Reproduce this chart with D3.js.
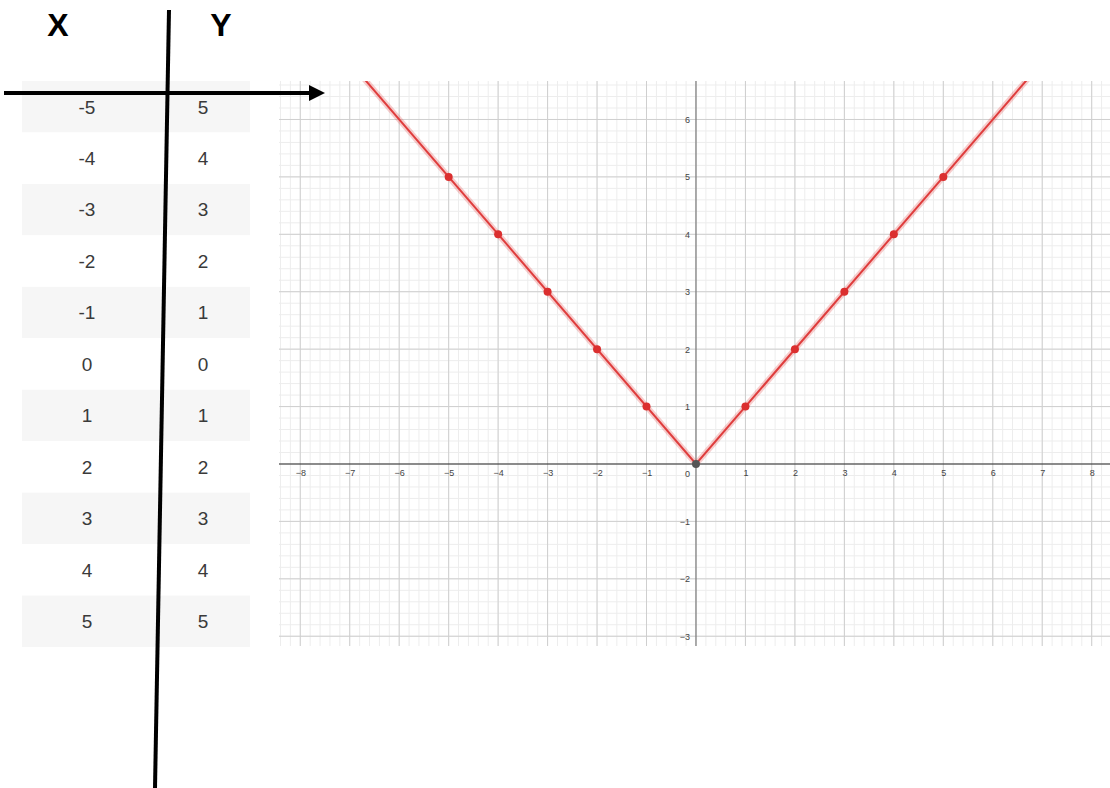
<!DOCTYPE html>
<html>
<head>
<meta charset="utf-8">
<script src="https://cdn.jsdelivr.net/npm/d3@7"></script>
<style>
  body { margin: 0; background: #fff; }
  svg { display: block; }
</style>
</head>
<body>
<div id="chart"></div>
<script>
// table values
const xValues = [-5, -4, -3, -2, -1, 0, 1, 2, 3, 4, 5];
const yValues = [5, 4, 3, 2, 1, 0, 1, 2, 3, 4, 5];
// the graphed line y = |x|, ends run past the plot and get clipped
const curveX = [-7, 0, 7];
const curveY = [7, 0, 7];
// axis tick labels
const xTicks = [-8, -7, -6, -5, -4, -3, -2, -1, 1, 2, 3, 4, 5, 6, 7, 8];
const yTicks = [-3, -2, -1, 1, 2, 3, 4, 5, 6];

const W = 1110, H = 788;
const plot = { left: 279, right: 1110, top: 81, bottom: 646 };

const svg = d3.select("#chart").append("svg")
  .attr("width", W)
  .attr("height", H);

// ---- table ----
const rows = d3.scaleBand()
  .domain(d3.range(xValues.length))
  .range([81, 647]);

const table = svg.append("g");
table.selectAll(".row")
  .data(xValues)
  .enter()
  .append("rect")
  .attr("x", 22)
  .attr("y", (d, i) => rows(i))
  .attr("width", 228)
  .attr("height", rows.bandwidth())
  .attr("fill", (d, i) => i % 2 === 0 ? "#f6f6f6" : "#fff");

table.selectAll(".xcell")
  .data(xValues)
  .enter()
  .append("text")
  .attr("x", 87)
  .attr("y", (d, i) => rows(i) + rows.bandwidth() / 2)
  .attr("dy", "0.36em")
  .attr("text-anchor", "middle")
  .style("font-family", "Arial, 'Liberation Sans', sans-serif")
  .style("font-size", "19px")
  .style("fill", "#3a3a3a")
  .text(d => d);

table.selectAll(".ycell")
  .data(yValues)
  .enter()
  .append("text")
  .attr("x", 203)
  .attr("y", (d, i) => rows(i) + rows.bandwidth() / 2)
  .attr("dy", "0.36em")
  .attr("text-anchor", "middle")
  .style("font-family", "Arial, 'Liberation Sans', sans-serif")
  .style("font-size", "19px")
  .style("fill", "#3a3a3a")
  .text(d => d);

// ---- graph ----
const x = d3.scaleLinear().domain([-8.43, 8.37]).range([plot.left, plot.right]);
const y = d3.scaleLinear().domain([-3.17, 6.67]).range([plot.bottom, plot.top]);

const grid = svg.append("g");

// minor grid, fifths of a unit
const minorX = d3.range(-42, 42).map(v => v / 5).filter(v => v >= x.domain()[0] && v <= x.domain()[1]);
const minorY = d3.range(-16, 34).map(v => v / 5).filter(v => v >= y.domain()[0] && v <= y.domain()[1]);

grid.selectAll(".mx")
  .data(minorX)
  .enter()
  .append("line")
  .attr("x1", d => x(d)).attr("x2", d => x(d))
  .attr("y1", plot.top).attr("y2", plot.bottom)
  .attr("stroke", "#ededed")
  .attr("stroke-width", 1);

grid.selectAll(".my")
  .data(minorY)
  .enter()
  .append("line")
  .attr("x1", plot.left).attr("x2", plot.right)
  .attr("y1", d => y(d)).attr("y2", d => y(d))
  .attr("stroke", "#ededed")
  .attr("stroke-width", 1);

// major grid
grid.selectAll(".Mx")
  .data(xTicks)
  .enter()
  .append("line")
  .attr("x1", d => x(d)).attr("x2", d => x(d))
  .attr("y1", plot.top).attr("y2", plot.bottom)
  .attr("stroke", "#cfcfcf")
  .attr("stroke-width", 1);

grid.selectAll(".My")
  .data(yTicks)
  .enter()
  .append("line")
  .attr("x1", plot.left).attr("x2", plot.right)
  .attr("y1", d => y(d)).attr("y2", d => y(d))
  .attr("stroke", "#cfcfcf")
  .attr("stroke-width", 1);

// main axes
svg.append("line")
  .attr("x1", plot.left).attr("x2", plot.right)
  .attr("y1", y(0)).attr("y2", y(0))
  .attr("stroke", "#222")
  .attr("stroke-width", 1.2);

svg.append("line")
  .attr("x1", x(0)).attr("x2", x(0))
  .attr("y1", plot.top).attr("y2", plot.bottom)
  .attr("stroke", "#777")
  .attr("stroke-width", 1.2);

const minus = d => d < 0 ? "\u2212" + Math.abs(d) : String(d);

// x labels
const xAxis = svg.append("g")
  .attr("transform", `translate(0,${y(0)})`)
  .call(d3.axisBottom(x).tickValues(xTicks).tickSize(0).tickPadding(6).tickFormat(minus));
xAxis.select(".domain").remove();
xAxis.selectAll("text")
  .style("font-family", "Arial, 'Liberation Sans', sans-serif")
  .style("font-size", "9px")
  .style("fill", "#444");

// y labels
const yAxis = svg.append("g")
  .attr("transform", `translate(${x(0)},0)`)
  .call(d3.axisLeft(y).tickValues(yTicks).tickSize(0).tickPadding(6).tickFormat(minus));
yAxis.select(".domain").remove();
yAxis.selectAll("text")
  .style("font-family", "Arial, 'Liberation Sans', sans-serif")
  .style("font-size", "9px")
  .style("fill", "#444");

svg.append("text")
  .attr("x", x(0) - 6)
  .attr("y", y(0) + 13)
  .attr("text-anchor", "end")
  .style("font-family", "Arial, 'Liberation Sans', sans-serif")
  .style("font-size", "9px")
  .style("fill", "#444")
  .text("0");

// the function
svg.append("clipPath")
  .attr("id", "plotClip")
  .append("rect")
  .attr("x", plot.left).attr("y", plot.top)
  .attr("width", plot.right - plot.left)
  .attr("height", plot.bottom - plot.top);

const curve = curveX.map((v, i) => ({ x: v, y: curveY[i] }));
const line = d3.line().x(d => x(d.x)).y(d => y(d.y));

const fn = svg.append("g").attr("clip-path", "url(#plotClip)");
fn.append("path")
  .datum(curve)
  .attr("fill", "none")
  .attr("stroke", "rgba(225,80,80,0.28)")
  .attr("stroke-width", 6)
  .attr("d", line);
fn.append("path")
  .datum(curve)
  .attr("fill", "none")
  .attr("stroke", "#df3d3d")
  .attr("stroke-width", 2)
  .attr("d", line);

// table points
const pts = xValues.map((v, i) => ({ x: v, y: yValues[i] }));
svg.selectAll(".pt")
  .data(pts)
  .enter()
  .append("circle")
  .attr("cx", d => x(d.x))
  .attr("cy", d => y(d.y))
  .attr("r", 4)
  .attr("fill", d => d.x === 0 ? "#555" : "#db2f2f");

// ---- hand drawn table divider and arrow ----
svg.append("text")
  .attr("x", 58)
  .attr("y", 36)
  .attr("text-anchor", "middle")
  .style("font-family", "Arial, 'Liberation Sans', sans-serif")
  .style("font-size", "32px")
  .style("font-weight", "bold")
  .style("fill", "#000")
  .text("X");

svg.append("text")
  .attr("x", 221)
  .attr("y", 36)
  .attr("text-anchor", "middle")
  .style("font-family", "Arial, 'Liberation Sans', sans-serif")
  .style("font-size", "32px")
  .style("font-weight", "bold")
  .style("fill", "#000")
  .text("Y");

svg.append("line")
  .attr("x1", 169).attr("y1", 10)
  .attr("x2", 155).attr("y2", 788)
  .attr("stroke", "#000")
  .attr("stroke-width", 4);

svg.append("line")
  .attr("x1", 4).attr("y1", 93)
  .attr("x2", 312).attr("y2", 93)
  .attr("stroke", "#000")
  .attr("stroke-width", 4);

svg.append("path")
  .attr("d", "M309,85 L325,93 L309,101 Z")
  .attr("fill", "#000");
</script>
</body>
</html>
